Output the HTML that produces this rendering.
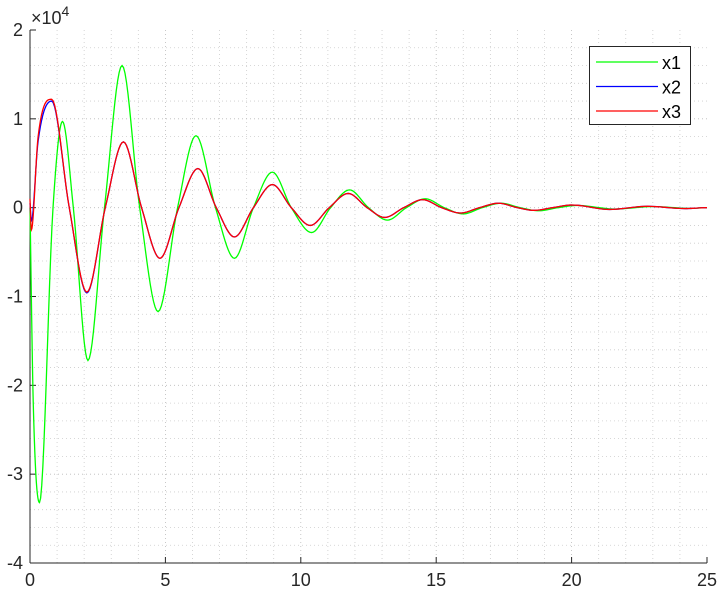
<!DOCTYPE html>
<html><head><meta charset="utf-8"><style>
body{margin:0;background:#fff}
svg{display:block;font-family:"Liberation Sans",sans-serif}
</style></head><body>
<svg id="c" width="720" height="597"></svg>
<script>
const xTicks=[0,5,10,15,20,25];
const yTicks=[-4,-3,-2,-1,0,1,2];
const tX1=[0,0.12,0.35,0.85,1.2,1.6,2.14,2.75,3.4,4.05,4.73,5.45,6.13,6.85,7.55,8.25,8.95,9.65,10.4,11.1,11.8,12.5,13.2,13.9,14.6,15.3,16.0,16.7,17.4,18.1,18.8,19.5,20.2,21.6,23.0,24.4,25];
const vX1=[0,-2.2,-3.32,0,0.97,0,-1.72,0,1.6,0,-1.17,0,0.81,0,-0.57,0,0.4,0,-0.28,0,0.2,0,-0.14,0,0.1,0,-0.07,0,0.05,0,-0.035,0,0.025,-0.015,0.012,-0.008,0];
const tX2=[0,0.05,0.3,0.8,1.45,2.1,2.78,3.45,4.12,4.8,5.5,6.2,6.88,7.55,8.25,8.95,9.65,10.35,11.05,11.75,12.45,13.1,13.8,14.5,15.2,15.9,16.6,17.3,18.0,18.6,19.3,20.0,21.4,22.8,24.2,25];
const vX2=[0.05,-0.15,0.75,1.2,0,-0.96,0,0.74,0,-0.57,0,0.44,0,-0.33,0,0.26,0,-0.2,0,0.16,0,-0.11,0,0.09,0,-0.06,0,0.05,0,-0.03,0,0.03,-0.02,0.015,-0.01,0];
const tX3=[0,0.05,0.3,0.8,1.45,2.1,2.78,3.45,4.12,4.8,5.5,6.2,6.88,7.55,8.25,8.95,9.65,10.35,11.05,11.75,12.45,13.1,13.8,14.5,15.2,15.9,16.6,17.3,18.0,18.6,19.3,20.0,21.4,22.8,24.2,25];
const vX3=[0.1,-0.25,0.8,1.22,0,-0.95,0,0.74,0,-0.57,0,0.44,0,-0.33,0,0.26,0,-0.2,0,0.16,0,-0.11,0,0.09,0,-0.06,0,0.05,0,-0.03,0,0.03,-0.02,0.015,-0.01,0];
const L=30,R=707,T=30,B=563;
const X=t=>L+(t-0)/25*(R-L);
const Y=v=>B-(v+4)/6*(B-T);
const NS='http://www.w3.org/2000/svg';
const svg=document.getElementById('c');
function mk(tag,attrs,parent){const e=document.createElementNS(NS,tag);for(const k in attrs)e.setAttribute(k,attrs[k]);(parent||svg).appendChild(e);return e;}
const g=mk('g',{});


for(let t=1;t<25;t++){mk('line',{x1:X(t),x2:X(t),y1:T,y2:B,stroke:t%5?'#ccc':'#bbb','stroke-width':0.8,'stroke-dasharray':'1,3'},g);}
for(let i=1;i<30;i++){const v=-4+i*0.2;mk('line',{x1:L,x2:R,y1:Y(v),y2:Y(v),stroke:i%5?'#ccc':'#bbb','stroke-width':0.8,'stroke-dasharray':'1,3'},g);}
const ax=mk('g',{});


mk('line',{x1:L,x2:L,y1:T,y2:B,stroke:'#262626','stroke-width':1},ax);
mk('line',{x1:L,x2:R,y1:B,y2:B,stroke:'#262626','stroke-width':1},ax);
xTicks.forEach(t=>{mk('line',{x1:X(t),x2:X(t),y1:B,y2:B-6,stroke:'#262626'},ax);
 const tx=mk('text',{x:X(t),y:B+23,'text-anchor':'middle','font-size':18,fill:'#262626'},ax);tx.textContent=t;
 });
yTicks.forEach(v=>{mk('line',{x1:L,x2:L+6,y1:Y(v),y2:Y(v),stroke:'#262626'},ax);
 const tx=mk('text',{x:L-7,y:Y(v)+6,'text-anchor':'end','font-size':18,fill:'#262626'},ax);tx.textContent=v;
 });
const ex=mk('text',{x:31,y:24,'font-size':18,fill:'#262626'},ax);
ex.innerHTML='×10<tspan dy="-8" font-size="14">4</tspan>';


function pathFor(ts,vs){
 const n=ts.length;
 const m=[];for(let i=0;i<n;i++){
  if(i==0||i==n-1){m.push(0);continue;}
  const d0=(vs[i]-vs[i-1])/(ts[i]-ts[i-1]),d1=(vs[i+1]-vs[i])/(ts[i+1]-ts[i]);
  m.push(d0*d1<=0?0:(d0+d1)/2);}
 m[0]=(vs[1]-vs[0])/(ts[1]-ts[0]);
 let d='M'+X(ts[0])+','+Y(vs[0]);
 for(let i=0;i<n-1;i++){const h=ts[i+1]-ts[i];
  for(let k=1;k<=12;k++){const s=k/12,h00=2*s*s*s-3*s*s+1,h10=s*s*s-2*s*s+s,h01=-2*s*s*s+3*s*s,h11=s*s*s-s*s;
   const v=h00*vs[i]+h10*h*m[i]+h01*vs[i+1]+h11*h*m[i+1];
   d+=' L'+X(ts[i]+s*h).toFixed(2)+','+Y(v).toFixed(2);}}
 return d;}
[[tX1,vX1,'#00ff00','series-x1'],[tX2,vX2,'#0000ff','series-x2'],[tX3,vX3,'#ff0000','series-x3']].forEach(s=>{
 const p=mk('path',{d:pathFor(s[0],s[1]),fill:'none',stroke:s[2],'stroke-width':1.3});
 
 });
const lg=mk('g',{});


mk('rect',{x:589.5,y:46.5,width:101,height:78,fill:'#fff',stroke:'#262626'},lg);
[['x1','#00ff00'],['x2','#0000ff'],['x3','#ff0000']].forEach((e,i)=>{const y=62+i*24.5;
 const ln=mk('line',{x1:596,x2:658,y1:y,y2:y,stroke:e[1],'stroke-width':1.3},lg);
 
 const t=mk('text',{x:662,y:y+7,'font-size':18,fill:'#000'},lg);t.textContent=e[0];
 });
</script>
</body></html>
